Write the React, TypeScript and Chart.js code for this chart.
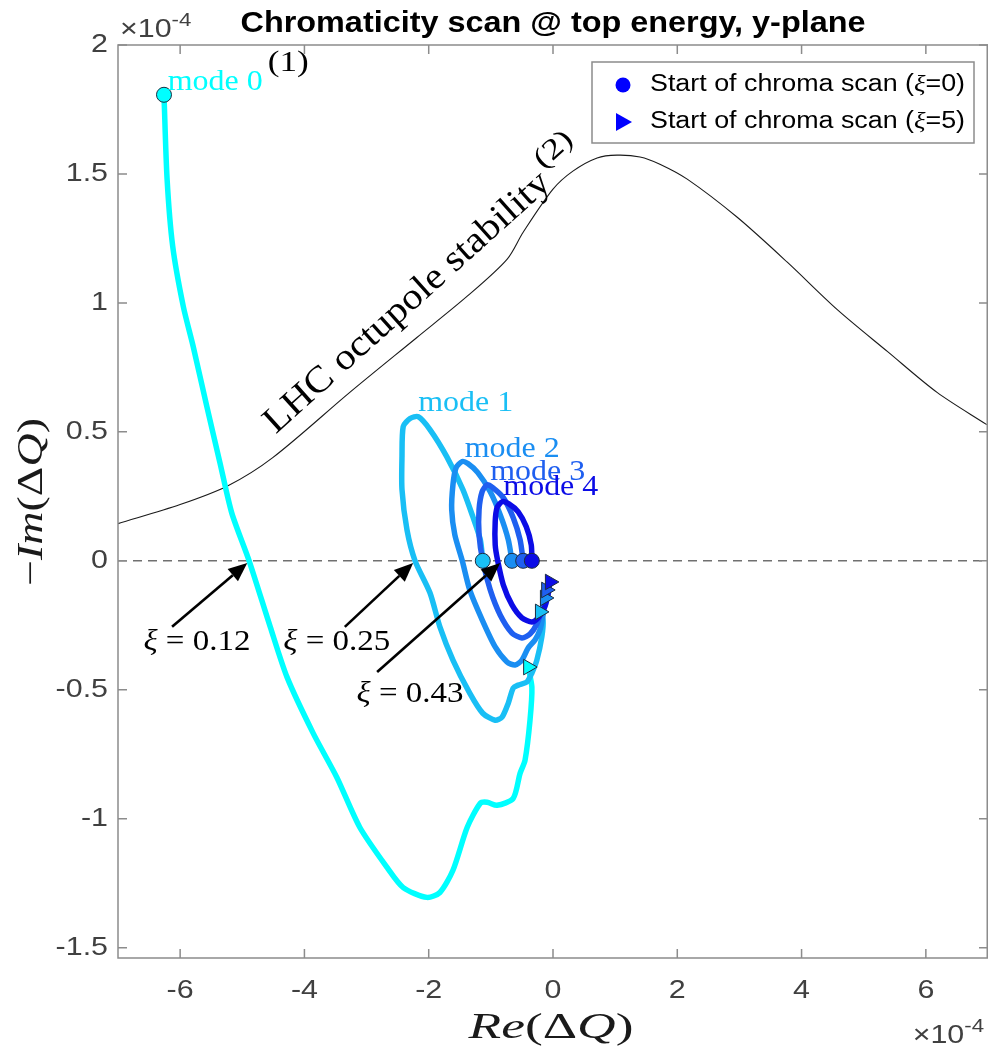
import React, { useEffect, useRef } from 'react';
import { Chart, registerables } from 'chart.js';

Chart.register(...registerables);

// ---------------- data ----------------
const xTickValues = [-6, -4, -2, 0, 2, 4, 6];
const yTickValues = [-1.5, -1, -0.5, 0, 0.5, 1, 1.5, 2];
const xMin = -7;
const xMax = 7;
const yMin = -1.54;
const yMax = 2;

const modeNames = ['mode 0', 'mode 1', 'mode 2', 'mode 3', 'mode 4'];
const modeColors = ['#00ffff', '#19bff5', '#1a8ef2', '#1f5ff0', '#0c0ce6'];

// values in units of 1e-4
const mode0X = [-6.26, -6.21, -6.12, -5.95, -5.79, -5.57, -5.36, -5.17, -4.89, -4.55, -4.28, -3.86, -3.48, -3.11, -2.67, -2.41, -2.03, -1.82, -1.61, -1.38, -1.17, -1.06, -0.9, -0.64, -0.53, -0.45, -0.37, -0.34, -0.4];
const mode0Y = [1.807, 1.48, 1.22, 0.987, 0.831, 0.598, 0.381, 0.186, 0.0, -0.256, -0.451, -0.668, -0.839, -1.033, -1.189, -1.267, -1.305, -1.286, -1.2, -1.033, -0.94, -0.936, -0.948, -0.921, -0.824, -0.773, -0.618, -0.49, -0.412];

const mode1X = [-1.13, -1.17, -1.29, -1.45, -1.71, -1.98, -2.17, -2.3, -2.41, -2.43, -2.43, -2.35, -2.22, -1.98, -1.82, -1.61, -1.34, -1.13, -0.93, -0.82, -0.72, -0.64, -0.56, -0.42, -0.34, -0.26, -0.18, -0.16, -0.21];
const mode1Y = [0, 0.082, 0.171, 0.276, 0.404, 0.509, 0.559, 0.552, 0.521, 0.404, 0.276, 0.12, 0, -0.124, -0.256, -0.385, -0.513, -0.591, -0.618, -0.606, -0.552, -0.493, -0.482, -0.47, -0.435, -0.385, -0.295, -0.229, -0.198];

const mode2X = [-0.66, -0.72, -0.85, -1.01, -1.21, -1.37, -1.46, -1.56, -1.61, -1.63, -1.58, -1.46, -1.34, -1.14, -0.93, -0.74, -0.61, -0.5, -0.4, -0.29, -0.21, -0.16, -0.13];
const mode2Y = [0, 0.082, 0.179, 0.268, 0.342, 0.377, 0.385, 0.361, 0.295, 0.198, 0.101, 0, -0.113, -0.229, -0.334, -0.392, -0.404, -0.385, -0.338, -0.307, -0.268, -0.21, -0.144];

const mode3X = [-0.48, -0.53, -0.64, -0.8, -0.97, -1.06, -1.14, -1.19, -1.19, -1.13, -1.01, -0.85, -0.66, -0.5, -0.37, -0.26, -0.18, -0.11];
const mode3Y = [0, 0.082, 0.167, 0.245, 0.284, 0.295, 0.268, 0.198, 0.101, 0, -0.113, -0.21, -0.28, -0.299, -0.284, -0.245, -0.19, -0.113];

const mode4X = [-0.34, -0.35, -0.43, -0.56, -0.71, -0.82, -0.9, -0.93, -0.93, -0.89, -0.8, -0.66, -0.5, -0.34, -0.24, -0.14, -0.08, -0.05];
const mode4Y = [0, 0.062, 0.132, 0.19, 0.221, 0.229, 0.206, 0.152, 0.062, 0, -0.093, -0.171, -0.221, -0.237, -0.221, -0.183, -0.132, -0.082];

const lhcX = [-7.0, -6.0, -5.23, -4.51, -3.27, -2.19, -1.38, -0.74, -0.48, 0.0, 0.32, 0.71, 1.03, 1.4, 1.72, 2.16, 2.96, 3.77, 4.57, 5.38, 6.18, 6.98];
const lhcY = [0.144, 0.218, 0.291, 0.4, 0.653, 0.866, 1.026, 1.169, 1.274, 1.441, 1.511, 1.562, 1.573, 1.566, 1.538, 1.48, 1.333, 1.158, 0.975, 0.812, 0.653, 0.528];

const zeroLineX = [-7, 7];
const zeroLineY = [0, 0];

// label anchors (data coords): left / baseline
const modeLabelX = [-6.2, -2.17, -1.42, -1.01, -0.8];
const modeLabelY = [1.825, 0.579, 0.404, 0.315, 0.256];

const xiValues = ['0.12', '0.25', '0.43'];
const arrowTipX = [-4.92, -2.25, -0.85];
const arrowTipY = [-0.008, -0.008, -0.008];
const arrowTailX = [-6.13, -3.35, -2.83];
const arrowTailY = [-0.256, -0.256, -0.431];
const xiLabelX = [-5.73, -3.48, -2.3];
const xiLabelY = [-0.346, -0.346, -0.548];

const titleText = 'Chromaticity scan @ top energy, y-plane';
const lhcLabel = 'LHC octupole stability';
const lhcLabelX = -4.46;
const lhcLabelY = 0.49;
const note1X = -4.59;
const note1Y = 1.9;
const legendLabels = ['Start of chroma scan (', 'Start of chroma scan ('];
const legendXi = ['=0)', '=5)'];

// ---------------- helpers ----------------
const SANS = "'Liberation Sans', Arial, Helvetica, sans-serif";
const SERIF = "'Liberation Serif', 'Times New Roman', serif";
const AXIS = '#8c8c8c';
const TICK = '#404040';

type Seg = { t: string; f: string };

function segWidth(ctx: CanvasRenderingContext2D, segs: Seg[]) {
  let w = 0;
  for (const s of segs) {
    ctx.font = s.f;
    w += ctx.measureText(s.t).width;
  }
  return w;
}

function drawRich(
  ctx: CanvasRenderingContext2D,
  segs: Seg[],
  x: number,
  y: number,
  align: 'left' | 'center' | 'right',
  sx: number,
  color: string,
  baseline: CanvasTextBaseline = 'alphabetic'
) {
  const W = segWidth(ctx, segs);
  ctx.save();
  ctx.translate(x, y);
  ctx.scale(sx, 1);
  ctx.fillStyle = color;
  ctx.textBaseline = baseline;
  ctx.textAlign = 'left';
  let cx = align === 'left' ? 0 : align === 'center' ? -W / 2 : -W;
  for (const s of segs) {
    ctx.font = s.f;
    ctx.fillText(s.t, cx, 0);
    cx += ctx.measureText(s.t).width;
  }
  ctx.restore();
  return W * sx;
}

function fitScale(ctx: CanvasRenderingContext2D, segs: Seg[], target: number) {
  return target / segWidth(ctx, segs);
}

const decor = {
  id: 'decor',
  afterDatasetsDraw(chart: any) {
    const ctx: CanvasRenderingContext2D = chart.ctx;
    const xs = chart.scales.x;
    const ys = chart.scales.y;
    const px = (v: number) => xs.getPixelForValue(v);
    const py = (v: number) => ys.getPixelForValue(v);
    ctx.save();

    // mode labels
    modeNames.forEach((name, i) => {
      const segs = [{ t: name, f: `29px ${SERIF}` }];
      drawRich(ctx, segs, px(modeLabelX[i]), py(modeLabelY[i]), 'left', fitScale(ctx, segs, 95), modeColors[i]);
    });

    // (1)
    {
      const segs = [{ t: '(1)', f: `29px ${SERIF}` }];
      drawRich(ctx, segs, px(note1X), py(note1Y), 'left', fitScale(ctx, segs, 41), '#000');
    }

    // LHC label rotated
    {
      const segs = [{ t: lhcLabel, f: `37px ${SERIF}` }];
      const sx = fitScale(ctx, segs, 372);
      ctx.save();
      ctx.translate(px(lhcLabelX), py(lhcLabelY));
      ctx.rotate((-42 * Math.PI) / 180);
      const w = drawRich(ctx, segs, 0, 0, 'left', sx, '#000');
      const s2 = [{ t: '(2)', f: `29px ${SERIF}` }];
      drawRich(ctx, s2, w + 4, -18, 'left', fitScale(ctx, s2, 42), '#000');
      ctx.restore();
    }

    // arrows + xi labels
    xiValues.forEach((val, i) => {
      const x1 = px(arrowTailX[i]);
      const y1 = py(arrowTailY[i]);
      const x2 = px(arrowTipX[i]);
      const y2 = py(arrowTipY[i]);
      const ang = Math.atan2(y2 - y1, x2 - x1);
      const hl = 19;
      const hw = 8;
      const bx = x2 - hl * Math.cos(ang);
      const by = y2 - hl * Math.sin(ang);
      ctx.strokeStyle = '#000';
      ctx.lineWidth = 2.6;
      ctx.beginPath();
      ctx.moveTo(x1, y1);
      ctx.lineTo(bx, by);
      ctx.stroke();
      ctx.fillStyle = '#000';
      ctx.beginPath();
      ctx.moveTo(x2, y2);
      ctx.lineTo(bx + hw * Math.sin(ang), by - hw * Math.cos(ang));
      ctx.lineTo(bx - hw * Math.sin(ang), by + hw * Math.cos(ang));
      ctx.closePath();
      ctx.fill();

      const segs = [
        { t: 'ξ', f: `italic 30px ${SERIF}` },
        { t: ' = ' + val, f: `30px ${SERIF}` },
      ];
      drawRich(ctx, segs, px(xiLabelX[i]), py(xiLabelY[i]), 'center', fitScale(ctx, segs, 107), '#000');
    });
    ctx.restore();
  },
  afterDraw(chart: any) {
    const ctx: CanvasRenderingContext2D = chart.ctx;
    const a = chart.chartArea;
    const xs = chart.scales.x;
    const ys = chart.scales.y;
    const px = (v: number) => xs.getPixelForValue(v);
    const py = (v: number) => ys.getPixelForValue(v);
    ctx.save();

    // axes box
    ctx.strokeStyle = AXIS;
    ctx.lineWidth = 1.5;
    ctx.beginPath();
    ctx.moveTo(a.left, a.top);
    ctx.lineTo(a.right - 0.75, a.top);
    ctx.lineTo(a.right - 0.75, a.bottom);
    ctx.lineTo(a.left, a.bottom);
    ctx.closePath();
    ctx.stroke();

    // inward ticks
    ctx.beginPath();
    xTickValues.forEach((v) => {
      const X = px(v);
      ctx.moveTo(X, a.bottom);
      ctx.lineTo(X, a.bottom - 9);
      ctx.moveTo(X, a.top);
      ctx.lineTo(X, a.top + 9);
    });
    yTickValues.forEach((v) => {
      const Y = py(v);
      ctx.moveTo(a.left, Y);
      ctx.lineTo(a.left + 9, Y);
      ctx.moveTo(a.right, Y);
      ctx.lineTo(a.right - 9, Y);
    });
    ctx.stroke();

    // tick labels
    xTickValues.forEach((v) => {
      drawRich(ctx, [{ t: String(v), f: `26px ${SANS}` }], px(v), a.bottom + 33, 'center', 1.17, TICK, 'middle');
    });
    yTickValues.forEach((v) => {
      drawRich(ctx, [{ t: String(v), f: `26px ${SANS}` }], a.left - 10, py(v), 'right', 1.17, TICK, 'middle');
    });

    // exponent labels
    {
      const w = drawRich(ctx, [{ t: '×10', f: `26px ${SANS}` }], a.left + 2, a.top - 8, 'left', 1.17, TICK);
      drawRich(ctx, [{ t: '-4', f: `19px ${SANS}` }], a.left + 2 + w, a.top - 19, 'left', 1.17, TICK);
      const s1 = [{ t: '×10', f: `26px ${SANS}` }];
      const s2 = [{ t: '-4', f: `19px ${SANS}` }];
      const w1 = segWidth(ctx, s1) * 1.17;
      const w2 = segWidth(ctx, s2) * 1.17;
      const x0 = 984 - w1 - w2;
      drawRich(ctx, s1, x0, a.bottom + 85, 'left', 1.17, TICK);
      drawRich(ctx, s2, x0 + w1, a.bottom + 74, 'left', 1.17, TICK);
    }

    // axis titles
    {
      const segs = [
        { t: 'Re', f: `italic 35px ${SERIF}` },
        { t: '(Δ', f: `35px ${SERIF}` },
        { t: 'Q', f: `italic 35px ${SERIF}` },
        { t: ')', f: `35px ${SERIF}` },
      ];
      drawRich(ctx, segs, (a.left + a.right) / 2 - 2, a.bottom + 80, 'center', fitScale(ctx, segs, 165), '#1a1a1a');
    }
    {
      const segs = [
        { t: '−', f: `35px ${SERIF}` },
        { t: 'Im', f: `italic 35px ${SERIF}` },
        { t: '(Δ', f: `35px ${SERIF}` },
        { t: 'Q', f: `italic 35px ${SERIF}` },
        { t: ')', f: `35px ${SERIF}` },
      ];
      ctx.save();
      ctx.translate(42, 502);
      ctx.rotate(-Math.PI / 2);
      drawRich(ctx, segs, 0, 0, 'center', fitScale(ctx, segs, 168), '#1a1a1a');
      ctx.restore();
    }

    // title
    {
      const segs = [{ t: titleText, f: `bold 29px ${SANS}` }];
      drawRich(ctx, segs, (a.left + a.right) / 2, 32, 'center', fitScale(ctx, segs, 625), '#000');
    }

    // legend
    {
      const L = 592, T = 62, R = 974, B = 143;
      ctx.fillStyle = '#fff';
      ctx.fillRect(L, T, R - L, B - T);
      ctx.strokeStyle = '#8c8c8c';
      ctx.lineWidth = 1.5;
      ctx.strokeRect(L, T, R - L, B - T);
      const rows = [85, 122];
      const segs0 = [
        { t: legendLabels[0], f: `23px ${SANS}` },
        { t: 'ξ', f: `italic 23px ${SERIF}` },
        { t: legendXi[0], f: `23px ${SANS}` },
      ];
      const sx = fitScale(ctx, segs0, 315);
      rows.forEach((ry, i) => {
        const segs = [
          { t: legendLabels[i], f: `23px ${SANS}` },
          { t: 'ξ', f: `italic 23px ${SERIF}` },
          { t: legendXi[i], f: `23px ${SANS}` },
        ];
        drawRich(ctx, segs, 650, ry, 'left', sx, '#000', 'middle');
      });
      ctx.fillStyle = '#0000ff';
      ctx.beginPath();
      ctx.arc(623, rows[0], 7.5, 0, Math.PI * 2);
      ctx.fill();
      ctx.beginPath();
      ctx.moveTo(632, rows[1]);
      ctx.lineTo(616, rows[1] - 9);
      ctx.lineTo(616, rows[1] + 9);
      ctx.closePath();
      ctx.fill();
    }
    ctx.restore();
  },
};

export default function App() {
  const ref = useRef<HTMLCanvasElement>(null);

  useEffect(() => {
    const canvas = ref.current;
    if (!canvas) return;
    const modeX = [mode0X, mode1X, mode2X, mode3X, mode4X];
    const modeY = [mode0Y, mode1Y, mode2Y, mode3Y, mode4Y];
    const pts = (xs: number[], ys: number[]) => xs.map((v, i) => ({ x: v, y: ys[i] }));

    const datasets: any[] = [];
    datasets.push({
      label: 'Start of chroma scan (ξ=0)',
      data: modeX.map((xs, i) => ({ x: xs[0], y: modeY[i][0] })),
      showLine: false,
      pointStyle: 'circle',
      pointRadius: 7.5,
      pointBackgroundColor: modeColors,
      pointBorderColor: '#1c2c40',
      pointBorderWidth: 1,
      order: 0,
    });
    datasets.push({
      label: 'Start of chroma scan (ξ=5)',
      data: modeX.map((xs, i) => ({ x: xs[xs.length - 1], y: modeY[i][modeY[i].length - 1] })),
      showLine: false,
      pointStyle: 'triangle',
      rotation: 90,
      pointRadius: 9,
      pointBackgroundColor: modeColors,
      pointBorderColor: '#1c2c40',
      pointBorderWidth: 1,
      order: 0,
    });
    for (let i = 4; i >= 0; i--) {
      datasets.push({
        label: modeNames[i],
        data: pts(modeX[i], modeY[i]),
        showLine: true,
        borderColor: modeColors[i],
        borderWidth: 5.5,
        pointRadius: 0,
        tension: 0.25,
        borderJoinStyle: 'round',
        borderCapStyle: 'round',
        order: 5 - i,
      });
    }
    datasets.push({
      label: 'LHC octupole stability',
      data: pts(lhcX, lhcY),
      showLine: true,
      borderColor: '#1a1a1a',
      borderWidth: 1.1,
      pointRadius: 0,
      tension: 0.3,
      order: 6,
    });
    datasets.push({
      label: 'zero',
      data: pts(zeroLineX, zeroLineY),
      showLine: true,
      borderColor: '#707070',
      borderWidth: 1.5,
      borderDash: [9, 6],
      pointRadius: 0,
      order: 7,
    });

    const chart = new Chart(canvas, {
      type: 'scatter',
      data: { datasets },
      options: {
        animation: false,
        responsive: false,
        devicePixelRatio: 1,
        layout: { autoPadding: false, padding: { top: 45, left: 0, right: 0, bottom: 0 } },
        plugins: {
          legend: { display: false },
          title: { display: false },
          tooltip: { enabled: false },
        },
        scales: {
          x: {
            type: 'linear',
            min: xMin,
            max: xMax,
            afterBuildTicks: (s: any) => {
              s.ticks = xTickValues.map((v) => ({ value: v }));
            },
            ticks: { display: false },
            grid: { display: false },
            border: { display: false },
            afterFit: (s: any) => {
              s.height = 91;
            },
          },
          y: {
            type: 'linear',
            min: yMin,
            max: yMax,
            afterBuildTicks: (s: any) => {
              s.ticks = yTickValues.map((v) => ({ value: v }));
            },
            ticks: { display: false },
            grid: { display: false },
            border: { display: false },
            afterFit: (s: any) => {
              s.width = 118;
            },
          },
        },
      } as any,
      plugins: [decor],
    });
    return () => chart.destroy();
  }, []);

  return (
    <div style={{ position: 'absolute', left: 0, top: 0, width: 988, height: 1049, background: '#fff' }}>
      <canvas ref={ref} width={988} height={1049} style={{ display: 'block' }} />
    </div>
  );
}
